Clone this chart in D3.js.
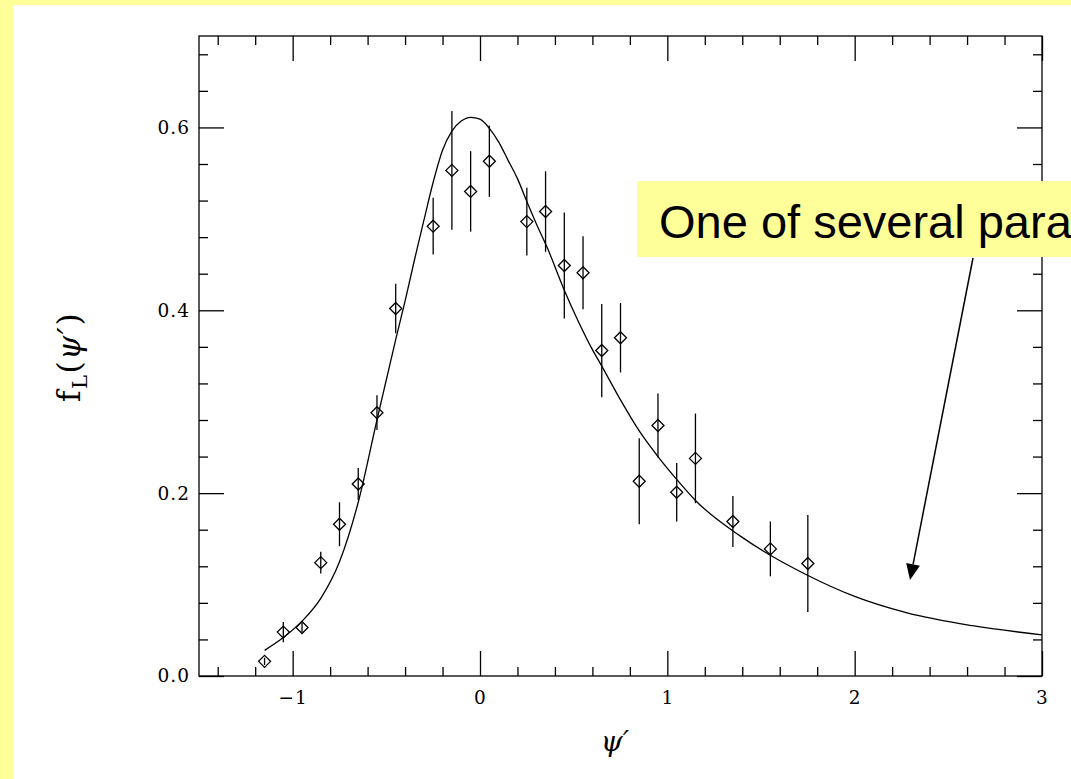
<!DOCTYPE html>
<html>
<head>
<meta charset="utf-8">
<script src="https://cdn.jsdelivr.net/npm/d3@7"></script>
<style>
  html, body { margin: 0; padding: 0; background: #ffffff; overflow: hidden; }
  svg { display: block; }
</style>
</head>
<body>
<svg id="chart" width="1071" height="779"></svg>
<script>
// ---- data ----
const pointX = [-1.15,-1.05,-0.95,-0.85,-0.75,-0.65,-0.55,-0.45,-0.25,-0.15,-0.05,0.05,0.25,0.35,0.45,0.55,0.65,0.75,0.85,0.95,1.05,1.15,1.35,1.55,1.75];
const pointY = [0.016,0.048,0.053,0.124,0.166,0.210,0.288,0.402,0.492,0.553,0.530,0.563,0.497,0.508,0.449,0.441,0.356,0.370,0.213,0.274,0.201,0.238,0.169,0.139,0.123];
const pointErr = [0.004,0.011,0.005,0.012,0.024,0.0175,0.019,0.027,0.031,0.065,0.044,0.039,0.037,0.044,0.058,0.040,0.051,0.038,0.047,0.035,0.032,0.049,0.028,0.030,0.053];

const fitX = [-1.15,-1.05,-0.95,-0.85,-0.75,-0.65,-0.55,-0.50,-0.45,-0.40,-0.35,-0.30,-0.25,-0.20,-0.15,-0.10,-0.05,0.00,0.05,0.10,0.15,0.20,0.25,0.30,0.36,0.45,0.52,0.60,0.65,0.75,0.85,0.95,1.05,1.15,1.39,1.55,1.74,2.00,2.28,2.63,3.00];
const fitY = [0.028,0.042,0.060,0.085,0.125,0.190,0.280,0.324,0.368,0.410,0.455,0.498,0.540,0.575,0.596,0.607,0.611,0.609,0.599,0.584,0.564,0.544,0.519,0.495,0.468,0.422,0.390,0.357,0.339,0.302,0.268,0.240,0.215,0.192,0.153,0.132,0.111,0.087,0.069,0.055,0.045];

const xMajorTicks = [-1, 0, 1, 2, 3];
const xMinorTicks = [-1.4,-1.2,-0.8,-0.6,-0.4,-0.2,0.2,0.4,0.6,0.8,1.2,1.4,1.6,1.8,2.2,2.4,2.6,2.8];
const yMajorTicks = [0, 0.2, 0.4, 0.6];
const yMinorTicks = [0.04,0.08,0.12,0.16,0.24,0.28,0.32,0.36,0.44,0.48,0.52,0.56,0.64,0.68];
const xDomain = [-1.5, 3];
const yDomain = [0, 0.7];
const annotationText = "One of several parametrizations";

(function () {
// ---- layout ----
const svg = d3.select("#chart");
const W = 1071, H = 779;
const mL = 199, mR = 1042, mT = 36, mB = 676;
const yellow = "#ffff99";

// page decoration: yellow strips
svg.append("rect").attr("x", 0).attr("y", 0).attr("width", W).attr("height", 5).attr("fill", yellow);
svg.append("rect").attr("x", 0).attr("y", 0).attr("width", 13).attr("height", H).attr("fill", yellow);

const x = d3.scaleLinear().domain(xDomain).range([mL, mR]);
const y = d3.scaleLinear().domain(yDomain).range([mB, mT]);

const tickFont = "'DejaVu Serif', serif";
const majorLen = 25, minorLen = 9;

function styleAxis(g) {
  g.select(".domain").remove();
  g.selectAll(".tick line").attr("stroke", "#000").attr("stroke-width", 1.3);
  g.selectAll(".tick text").attr("fill", "#000").attr("font-family", tickFont).attr("font-size", 18.5).attr("letter-spacing", "1px");
}

// bottom axis
svg.append("g").attr("transform", `translate(0,${mB})`)
  .call(d3.axisBottom(x).tickValues(xMajorTicks).tickSize(-majorLen).tickSizeOuter(0).tickPadding(15)
    .tickFormat(d => d < 0 ? "\u2212" + Math.abs(d) : String(d)))
  .call(styleAxis);
svg.append("g").attr("transform", `translate(0,${mB})`)
  .call(d3.axisBottom(x).tickValues(xMinorTicks).tickSize(-minorLen).tickSizeOuter(0).tickFormat(""))
  .call(styleAxis);
// top axis
svg.append("g").attr("transform", `translate(0,${mT})`)
  .call(d3.axisTop(x).tickValues(xMajorTicks).tickSize(-majorLen).tickSizeOuter(0).tickFormat(""))
  .call(styleAxis);
svg.append("g").attr("transform", `translate(0,${mT})`)
  .call(d3.axisTop(x).tickValues(xMinorTicks).tickSize(-minorLen).tickSizeOuter(0).tickFormat(""))
  .call(styleAxis);
// left axis
svg.append("g").attr("transform", `translate(${mL},0)`)
  .call(d3.axisLeft(y).tickValues(yMajorTicks).tickSize(-majorLen).tickSizeOuter(0).tickPadding(9)
    .tickFormat(d3.format(".1f")))
  .call(styleAxis);
svg.append("g").attr("transform", `translate(${mL},0)`)
  .call(d3.axisLeft(y).tickValues(yMinorTicks).tickSize(-minorLen).tickSizeOuter(0).tickFormat(""))
  .call(styleAxis);
// right axis
svg.append("g").attr("transform", `translate(${mR},0)`)
  .call(d3.axisRight(y).tickValues(yMajorTicks).tickSize(-majorLen).tickSizeOuter(0).tickFormat(""))
  .call(styleAxis);
svg.append("g").attr("transform", `translate(${mR},0)`)
  .call(d3.axisRight(y).tickValues(yMinorTicks).tickSize(-minorLen).tickSizeOuter(0).tickFormat(""))
  .call(styleAxis);

// frame
svg.append("rect").attr("x", mL).attr("y", mT).attr("width", mR - mL).attr("height", mB - mT)
  .attr("fill", "none").attr("stroke", "#000").attr("stroke-width", 1.3);

// fitted curve
const fitData = fitX.map((v, i) => [v, fitY[i]]);
svg.append("path").datum(fitData)
  .attr("fill", "none").attr("stroke", "#000").attr("stroke-width", 1.3)
  .attr("d", d3.line().x(d => x(d[0])).y(d => y(d[1])).curve(d3.curveMonotoneX));

// data points with error bars
const pts = pointX.map((v, i) => ({ x: v, y: pointY[i], e: pointErr[i] }));
svg.append("g").selectAll("line").data(pts).join("line")
  .attr("x1", d => x(d.x)).attr("x2", d => x(d.x))
  .attr("y1", d => y(d.y - d.e)).attr("y2", d => y(d.y + d.e))
  .attr("stroke", "#000").attr("stroke-width", 1.3);
const r = 6;
svg.append("g").selectAll("path").data(pts).join("path")
  .attr("d", d => {
    const cx = x(d.x), cy = y(d.y);
    return `M${cx},${cy - r}L${cx + r},${cy}L${cx},${cy + r}L${cx - r},${cy}Z`;
  })
  .attr("fill", "none").attr("stroke", "#000").attr("stroke-width", 1.3);

// axis titles
const xt = svg.append("text").attr("x", 615).attr("y", 751).attr("text-anchor", "middle")
  .attr("font-family", tickFont).attr("font-size", 28).attr("fill", "#000");
xt.append("tspan").attr("font-style", "italic").text("\u03C8\u2032");

const yt = svg.append("text").attr("transform", "translate(80,357) rotate(-90)").attr("text-anchor", "middle")
  .attr("font-family", tickFont).attr("font-size", 31).attr("letter-spacing", "1.5px").attr("fill", "#000");
yt.append("tspan").text("f");
yt.append("tspan").attr("font-size", 21).attr("dy", 7).text("L");
yt.append("tspan").attr("dy", -7).text("(");
yt.append("tspan").attr("font-style", "italic").text("\u03C8\u2032");
yt.append("tspan").text(")");

// annotation box + arrow
svg.append("rect").attr("x", 637).attr("y", 181).attr("width", W - 637 + 10).attr("height", 76).attr("fill", yellow);
svg.append("text").attr("x", 659).attr("y", 238)
  .attr("font-family", "'Liberation Sans', Arial, sans-serif").attr("font-size", 47).attr("fill", "#000")
  .text(annotationText);

const ax0 = [973, 258], ax1 = [910, 580];
const ang = Math.atan2(ax1[1] - ax0[1], ax1[0] - ax0[0]);
const headLen = 16, headW = 7;
const bx = ax1[0] - headLen * Math.cos(ang), by = ax1[1] - headLen * Math.sin(ang);
svg.append("line").attr("x1", ax0[0]).attr("y1", ax0[1]).attr("x2", bx).attr("y2", by)
  .attr("stroke", "#000").attr("stroke-width", 1.5);
const px = -Math.sin(ang), py = Math.cos(ang);
svg.append("path")
  .attr("d", `M${ax1[0]},${ax1[1]}L${bx + headW * px},${by + headW * py}L${bx - headW * px},${by - headW * py}Z`)
  .attr("fill", "#000");
})();
</script>
</body>
</html>
